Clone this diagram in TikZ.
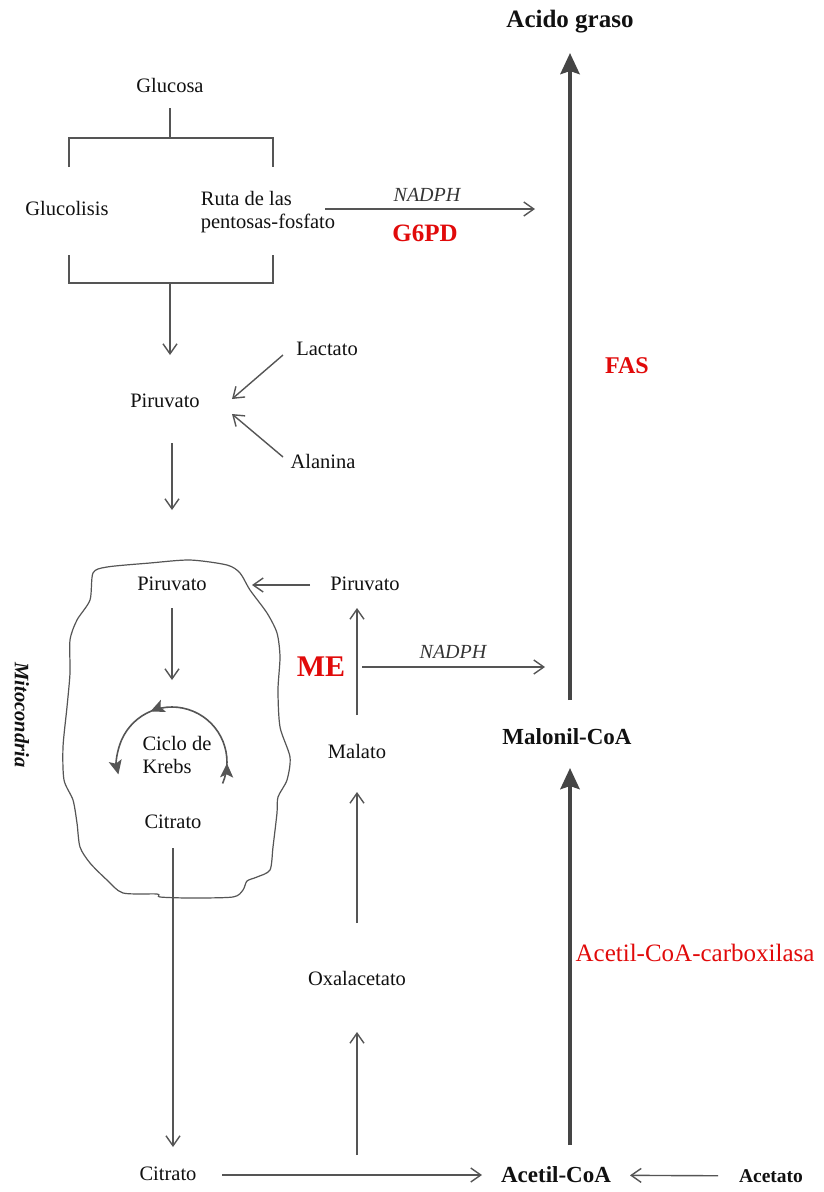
\documentclass[tikz,border=0pt]{standalone}
\usepackage{fontspec}
\setmainfont{Liberation Serif}
\usetikzlibrary{arrows.meta,decorations.markings}
\definecolor{linec}{HTML}{555555}
\definecolor{thkc}{HTML}{454545}
\definecolor{enzred}{RGB}{225,10,10}
\definecolor{txt}{HTML}{111111}
\tikzset{ktip/.tip={Stealth[length=14pt,width=13pt,inset=3pt]}}
\begin{document}
\begin{tikzpicture}[x=1pt,y=-1pt,
  lab/.style={font=\fontsize{20.5}{22}\selectfont, inner sep=0pt, text=txt, text height=14pt, text depth=4pt},
  mlab/.style={font=\fontsize{20.5}{23}\selectfont, inner sep=0pt, text=txt, align=left},
  ital/.style={font=\itshape\fontsize{20}{22}\selectfont, inner sep=0pt, text=txt!85!white},
  blab/.style={font=\bfseries\fontsize{23}{25}\selectfont, inner sep=0pt, text=txt},
  enzb/.style={inner sep=0pt, text=enzred},
  conn/.style={draw=linec, line width=1.4pt},
  arr/.style={conn, -{Straight Barb[length=10pt,width=14pt]}},
  thk/.style={draw=thkc, line width=4.2pt, -{Stealth[length=21pt,width=19pt,inset=3pt]}}]
\fill[white] (0,0) rectangle (824,1192);
\useasboundingbox (0,0) rectangle (824,1192);

% nodes
\node[blab, font=\bfseries\fontsize{25}{27}\selectfont] (acido) at (570,22) {Acido graso};
\node[lab] (glucosa) at (170,87) {Glucosa};
\node[lab] (glucolisis) at (67,210) {Glucolisis};
\node[mlab] (ruta) at (268,212) {Ruta de las\\pentosas-fosfato};
\node[ital] (nadph1) at (427,195) {NADPH};
\node[enzb, font=\bfseries\fontsize{25}{27}\selectfont] (g6pd) at (425,233) {G6PD};
\node[enzb, font=\bfseries\fontsize{24}{26}\selectfont] (fas) at (627,366) {FAS};
\node[lab] (pir1) at (165,402) {Piruvato};
\node[lab] (lactato) at (327,350) {Lactato};
\node[lab] (alanina) at (323,463) {Alanina};
\node[lab] (pir2) at (172,585) {Piruvato};
\node[lab] (pir3) at (365,585) {Piruvato};
\node[enzb, font=\bfseries\fontsize{30}{32}\selectfont] (me) at (321,667) {ME};
\node[ital] (nadph2) at (453,652) {NADPH};
\node[mlab] (krebs) at (177,755) {Ciclo de\\Krebs};
\node[lab] (citr1) at (173,823) {Citrato};
\node[lab] (malato) at (357,753) {Malato};
\node[lab] (oxal) at (357,980) {Oxalacetato};
\node[lab] (citr2) at (168,1175) {Citrato};
\node[blab] (acetil) at (556,1175) {Acetil-CoA};
\node[blab, font=\bfseries\fontsize{19.5}{21}\selectfont] (acetato) at (771,1176) {Acetato};
\node[blab] (malonil) at (567,737) {Malonil-CoA};
\node[enzb, font=\fontsize{25}{27}\selectfont] (acc) at (695,953) {Acetil-CoA-carboxilasa};
\node[font=\bfseries\itshape\fontsize{20.5}{22}\selectfont, text=txt, rotate=-90, inner sep=0pt] (mito) at (22,715) {Mitocondria};

% mitochondrion outline
\draw[draw=linec, line width=1.2pt] plot[smooth cycle, tension=0.45] coordinates {
 (93,573) (107,567) (150,563) (190,560) (227,565) (240,573) (250,590) (267,613)
 (277,633) (280,657) (278,690) (280,727) (290,757) (287,780) (278,797) (277,813)
 (273,847) (270,870) (257,877) (247,881) (243,890) (233,897) (190,898) (160,897)
 (157,894) (123,893) (107,880) (90,863) (80,847) (77,823) (73,800) (64,780)
 (63,747) (67,707) (70,673) (70,640) (77,620) (90,600)};

% glucose brackets
\coordinate (btop) at (170,138);
\coordinate (bbot) at (170,283);
\draw[conn] (69,167) |- (273,138) -- (273,167);
\draw[conn] (69,255) |- (273,283) -- (273,255);
\draw[conn, shorten <=21pt] (glucosa.center) -- (btop);
\draw[arr, shorten >=47pt] (bbot) -- (bbot |- pir1.center);

% pentose phosphate -> fatty acid
\draw[arr, shorten <=57pt, shorten >=35pt] ([yshift=3pt]ruta.center) -- ([yshift=3pt]ruta.center -| acido.center);

% lactate / alanine
\draw[arr] ([shift={(-44pt,-5pt)}]lactato.center) -- ([shift={(67pt,3pt)}]pir1.center);
\draw[arr] ([shift={(-40pt,6pt)}]alanina.center) -- ([shift={(67pt,-12pt)}]pir1.center);

% pyruvate into mitochondrion
\draw[arr, shorten <=41pt, shorten >=75pt] (pir2.center |- pir1.center) -- (pir2.center);
\draw[arr, shorten <=55pt, shorten >=80pt] (pir3.center) -- (pir2.center);
\draw[arr, shorten <=23pt, shorten >=75pt] (pir2.center) -- (pir2.center |- krebs.center);

% Krebs cycle arc
\coordinate (kc) at (172,762);
\draw[conn, line width=1.6pt, -{ktip},
  decoration={markings,
    mark=at position 0.10 with {\arrow{ktip}},
    mark=at position 0.63 with {\arrow{ktip}}},
  postaction={decorate}]
  ([shift={(50.6pt,-21.5pt)}]kc) arc[start angle=-23, end angle=193, radius=55pt];

% citrate out
\draw[arr, shorten <=25pt, shorten >=28pt] (citr1.center) -- (citr1.center |- citr2.center);
\draw[arr, shorten <=54pt, shorten >=74pt] (citr2.center) -- (acetil.center);
\draw[arr, shorten <=53pt, shorten >=74pt] (acetato.center) -- (acetil.center);

% oxaloacetate / malate / pyruvate
\draw[arr, shorten <=20pt, shorten >=52pt] (oxal.center |- citr2.center) -- (oxal.center);
\draw[arr, shorten <=57pt, shorten >=39pt] (oxal.center) -- (malato.center);
\draw[arr, shorten <=38pt, shorten >=23pt] (malato.center) -- (malato.center |- pir3.center);
\draw[arr, shorten <=5pt, shorten >=25pt] (malato.center |- me.center) -- (me.center -| acido.center);

% thick main arrows
\draw[thk, shorten <=30pt, shorten >=31pt] (acetil.center -| acido.center) -- (malonil.center -| acido.center);
\draw[thk, shorten <=37pt, shorten >=31pt] (malonil.center -| acido.center) -- (acido.center);
\end{tikzpicture}
\end{document}
